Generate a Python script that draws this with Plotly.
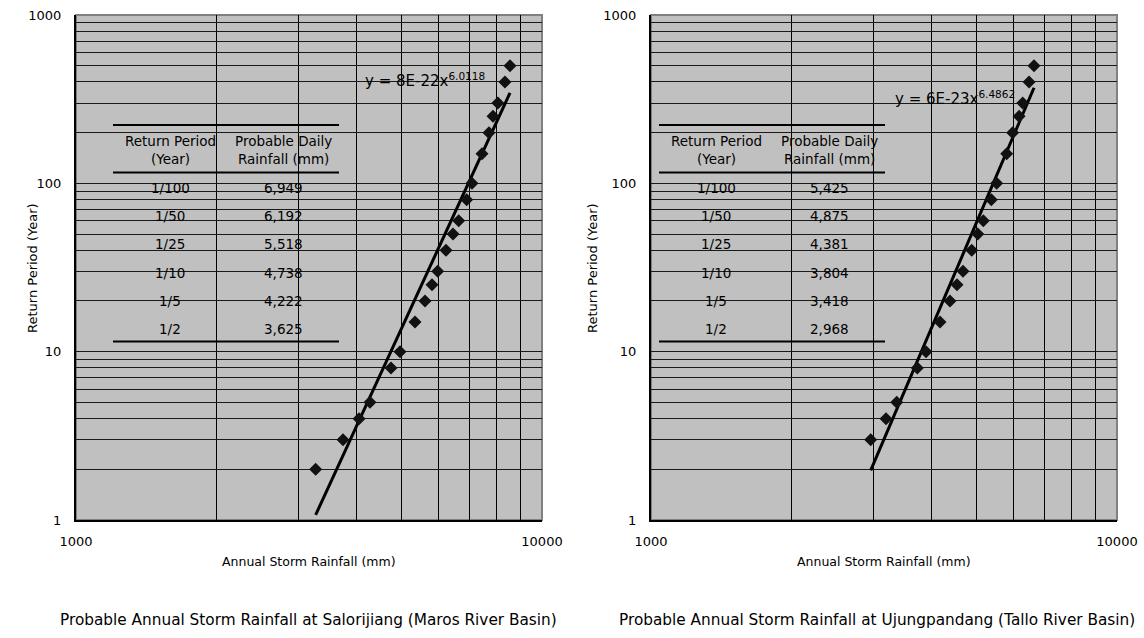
import numpy as np
import plotly.graph_objects as go

# ---------------- data ----------------
# Left chart: Salorijiang (Maros River Basin)
left_period = [2, 3, 4, 5, 8, 10, 15, 20, 25, 30, 40, 50, 60, 80, 100, 150, 200, 250, 300, 400, 500]
left_rain = [3268, 3741, 4050, 4274, 4742, 4958, 5339, 5610, 5807, 5973, 6223, 6442, 6626, 6893,
             7075, 7434, 7696, 7849, 8042, 8326, 8537]
left_coef_a = 8e-22
left_coef_b = 6.0118
left_eq_a = "8E-22"
left_eq_b = "6.0118"

# Right chart: Ujungpandang (Tallo River Basin)
right_period = [3, 4, 5, 8, 10, 15, 20, 25, 30, 40, 50, 60, 80, 100, 150, 200, 250, 300, 400, 500]
right_rain = [2961, 3194, 3368, 3728, 3892, 4171, 4381, 4536, 4672, 4878, 5025, 5166, 5374, 5519,
              5798, 5973, 6163, 6276, 6476, 6636]
right_coef_a = 6e-23
right_coef_b = 6.4862
right_eq_a = "6E-23"
right_eq_b = "6.4862"

table_periods = ["1/100", "1/50", "1/25", "1/10", "1/5", "1/2"]
left_table_vals = ["6,949", "6,192", "5,518", "4,738", "4,222", "3,625"]
right_table_vals = ["5,425", "4,875", "4,381", "3,804", "3,418", "2,968"]

y_ticks = [1, 10, 100, 1000]
x_ticks = [1000, 10000]
y_minor = [m * 10 ** e for e in range(0, 3) for m in range(2, 10)]
x_minor = [m * 1000 for m in range(2, 10)]
left_caption = "Probable Annual Storm Rainfall at Salorijiang (Maros River Basin)"
right_caption = "Probable Annual Storm Rainfall at Ujungpandang (Tallo River Basin)"
x_title = "Annual Storm Rainfall (mm)"
y_title = "Return Period (Year)"

# ---------------- layout helpers ----------------
W, H = 1144, 638
FONT = "DejaVu Sans, Liberation Sans, sans-serif"
def px(x):
    return x / W
def py(y):
    return 1 - y / H

fig = go.Figure()

def trend(rain, a, b):
    xs = np.array([min(rain), max(rain)], dtype=float)
    return xs, a * xs ** b

for i, (per, rain, a, b) in enumerate([(left_period, left_rain, left_coef_a, left_coef_b),
                                       (right_period, right_rain, right_coef_a, right_coef_b)]):
    xa = "x" if i == 0 else "x2"
    ya = "y" if i == 0 else "y2"
    tx, ty = trend(rain, a, b)
    fig.add_trace(go.Scatter(x=tx, y=ty, mode="lines", xaxis=xa, yaxis=ya,
                             line=dict(color="#000000", width=3), showlegend=False))
    fig.add_trace(go.Scatter(x=rain, y=per, mode="markers", xaxis=xa, yaxis=ya,
                             marker=dict(symbol="diamond", size=10, color="#111111"),
                             showlegend=False, hoverinfo="x+y"))

common_x = dict(type="log", range=[3, 4], tickmode="array", tickvals=x_ticks,
                ticktext=[str(v) for v in x_ticks],
                showgrid=True, gridcolor="#000000", gridwidth=1,
                minor=dict(tickmode="array", tickvals=x_minor, showgrid=True,
                           gridcolor="#000000", gridwidth=1, ticks=""),
                showline=True, linecolor="#000000", linewidth=2, mirror=False,
                ticks="", ticklabelstandoff=8, automargin=False,
                tickfont=dict(family=FONT, size=13, color="#000000"), zeroline=False)
common_y = dict(type="log", range=[0, 3], tickmode="array", tickvals=y_ticks,
                ticktext=[str(v) for v in y_ticks],
                showgrid=True, gridcolor="#1a1a1a", gridwidth=1,
                minor=dict(tickmode="array", tickvals=y_minor, showgrid=True,
                           gridcolor="#1a1a1a", gridwidth=1, ticks=""),
                showline=True, linecolor="#000000", linewidth=2,
                ticks="", ticklabelstandoff=10, automargin=False,
                tickfont=dict(family=FONT, size=13, color="#000000"), zeroline=False)

fig.update_layout(
    width=W, height=H, margin=dict(l=0, r=0, t=0, b=0, autoexpand=False),
    paper_bgcolor="white", plot_bgcolor="#c0c0c0",
    xaxis=dict(domain=[px(76), px(542)], anchor="y", **common_x),
    yaxis=dict(domain=[py(520), py(15)], anchor="x", **common_y),
    xaxis2=dict(domain=[px(651), px(1117)], anchor="y2", **common_x),
    yaxis2=dict(domain=[py(520), py(15)], anchor="x2", **common_y),
)

shapes = []
annotations = []

# plot borders (gray)
for x0, x1 in [(76, 542), (651, 1117)]:
    shapes.append(dict(type="rect", xref="paper", yref="paper", x0=px(x0), x1=px(x1),
                       y0=py(520), y1=py(15), line=dict(color="#808080", width=2),
                       layer="below"))

TF = 13.5
def add_table(x_left, vals):
    x_right = x_left + 226
    for yy in [125, 172.5, 341.5]:
        shapes.append(dict(type="line", xref="paper", yref="paper",
                           x0=px(x_left), x1=px(x_right), y0=py(yy), y1=py(yy),
                           line=dict(color="#000000", width=2)))
    c1 = x_left + 57
    c2 = x_left + 170
    hdr = [("Return Period", c1, 141.5), ("(Year)", c1, 159), ("Probable Daily", c2, 141.5),
           ("Rainfall (mm)", c2, 159)]
    for t, x, y in hdr:
        annotations.append(dict(text=t, x=px(x), y=py(y), xref="paper", yref="paper",
                                showarrow=False, xanchor="center", yanchor="middle",
                                font=dict(family=FONT, size=TF, color="#000000")))
    row_y = [187.5, 216, 244.5, 272.5, 301, 329]
    for p, v, y in zip(table_periods, vals, row_y):
        annotations.append(dict(text=p, x=px(c1), y=py(y), xref="paper", yref="paper",
                                showarrow=False, xanchor="center", yanchor="middle",
                                font=dict(family=FONT, size=TF, color="#000000")))
        annotations.append(dict(text=v, x=px(c2), y=py(y), xref="paper", yref="paper",
                                showarrow=False, xanchor="center", yanchor="middle",
                                font=dict(family=FONT, size=TF, color="#000000")))

add_table(113, left_table_vals)
add_table(659, right_table_vals)

# equations
for x, y, ea, eb in [(363, 80, left_eq_a, left_eq_b), (893, 98, right_eq_a, right_eq_b)]:
    annotations.append(dict(text=f"y = {ea}x<sup>{eb}</sup>", x=px(x), y=py(y),
                            xref="paper", yref="paper", showarrow=False,
                            xanchor="left", yanchor="middle",
                            font=dict(family=FONT, size=15, color="#000000")))

# axis titles and captions
for cx, yx, capx, cap in [(309, 32, 308, left_caption), (884, 592, 877, right_caption)]:
    annotations.append(dict(text=x_title, x=px(cx), y=py(561), xref="paper", yref="paper",
                            showarrow=False, xanchor="center", yanchor="middle",
                            font=dict(family=FONT, size=12.5, color="#000000")))
    annotations.append(dict(text=y_title, x=px(yx), y=py(268), xref="paper", yref="paper",
                            showarrow=False, textangle=-90, xanchor="center", yanchor="middle",
                            font=dict(family=FONT, size=13, color="#000000")))
    annotations.append(dict(text=cap, x=px(capx), y=py(620), xref="paper", yref="paper",
                            showarrow=False, xanchor="center", yanchor="middle",
                            font=dict(family=FONT, size=15.3, color="#000000")))

fig.update_layout(shapes=shapes, annotations=annotations)
fig.write_html("out.html", config={"displayModeBar": False},
               post_script="document.body.style.margin='0';document.body.style.overflow='hidden';")
